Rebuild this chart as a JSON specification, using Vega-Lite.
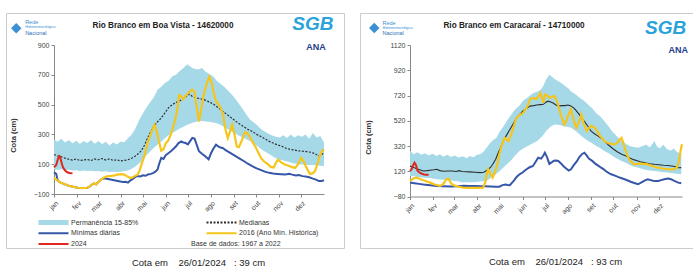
{
"$schema": "https://vega.github.io/schema/vega-lite/v6.json",
"background": "white",
"padding": {"left": 5, "top": 12, "right": 0, "bottom": 0},
"spacing": 14,
"config": {"font": "Liberation Sans", "view": {"stroke": "#cccccc"}, "axis": {"grid": false, "labelFontSize": 7, "labelColor": "#444", "domainColor": "#888", "tickColor": "#888", "tickSize": 3, "labelPadding": 2, "labelOverlap": false}},
"datasets": {
"bv": [
{"s":"band","d":0,"v":65,"v2":265},{"s":"band","d":5,"v":62,"v2":250},{"s":"band","d":10,"v":66,"v2":270},{"s":"band","d":15,"v":60,"v2":245},{"s":"band","d":20,"v":62,"v2":262},{"s":"band","d":25,"v":58,"v2":240},{"s":"band","d":30,"v":60,"v2":258},{"s":"band","d":35,"v":55,"v2":235},{"s":"band","d":40,"v":58,"v2":255},{"s":"band","d":45,"v":54,"v2":242},{"s":"band","d":50,"v":56,"v2":262},{"s":"band","d":55,"v":52,"v2":238},{"s":"band","d":60,"v":55,"v2":255},{"s":"band","d":65,"v":50,"v2":235},{"s":"band","d":70,"v":52,"v2":250},{"s":"band","d":75,"v":48,"v2":225},{"s":"band","d":80,"v":50,"v2":245},{"s":"band","d":85,"v":47,"v2":232},{"s":"band","d":90,"v":50,"v2":252},{"s":"band","d":95,"v":52,"v2":248},{"s":"band","d":100,"v":58,"v2":275},{"s":"band","d":105,"v":70,"v2":300},{"s":"band","d":110,"v":85,"v2":340},{"s":"band","d":115,"v":105,"v2":395},{"s":"band","d":120,"v":130,"v2":440},{"s":"band","d":125,"v":160,"v2":480},{"s":"band","d":130,"v":185,"v2":515},{"s":"band","d":135,"v":210,"v2":550},{"s":"band","d":140,"v":230,"v2":600},{"s":"band","d":145,"v":253,"v2":620},{"s":"band","d":150,"v":275,"v2":645},{"s":"band","d":155,"v":295,"v2":660},{"s":"band","d":160,"v":310,"v2":690},{"s":"band","d":165,"v":325,"v2":700},{"s":"band","d":170,"v":340,"v2":725},{"s":"band","d":175,"v":352,"v2":745},{"s":"band","d":180,"v":365,"v2":770},{"s":"band","d":183,"v":370,"v2":760},{"s":"band","d":187,"v":378,"v2":745},{"s":"band","d":190,"v":382,"v2":740},{"s":"band","d":195,"v":388,"v2":735},{"s":"band","d":200,"v":390,"v2":745},{"s":"band","d":205,"v":387,"v2":720},{"s":"band","d":210,"v":385,"v2":705},{"s":"band","d":215,"v":380,"v2":690},{"s":"band","d":220,"v":375,"v2":660},{"s":"band","d":225,"v":365,"v2":640},{"s":"band","d":230,"v":350,"v2":620},{"s":"band","d":235,"v":335,"v2":595},{"s":"band","d":240,"v":320,"v2":570},{"s":"band","d":245,"v":305,"v2":540},{"s":"band","d":250,"v":292,"v2":505},{"s":"band","d":255,"v":280,"v2":470},{"s":"band","d":260,"v":268,"v2":433},{"s":"band","d":265,"v":255,"v2":400},{"s":"band","d":270,"v":240,"v2":380},{"s":"band","d":275,"v":220,"v2":360},{"s":"band","d":280,"v":200,"v2":335},{"s":"band","d":285,"v":185,"v2":320},{"s":"band","d":290,"v":170,"v2":305},{"s":"band","d":295,"v":155,"v2":292},{"s":"band","d":300,"v":140,"v2":285},{"s":"band","d":305,"v":132,"v2":280},{"s":"band","d":310,"v":124,"v2":295},{"s":"band","d":315,"v":118,"v2":276},{"s":"band","d":320,"v":112,"v2":300},{"s":"band","d":325,"v":105,"v2":280},{"s":"band","d":330,"v":102,"v2":295},{"s":"band","d":335,"v":98,"v2":285},{"s":"band","d":340,"v":96,"v2":300},{"s":"band","d":345,"v":95,"v2":270},{"s":"band","d":350,"v":95,"v2":310},{"s":"band","d":355,"v":93,"v2":280},{"s":"band","d":360,"v":90,"v2":290},{"s":"band","d":365,"v":88,"v2":245},
{"s":"med","d":0,"v":165},{"s":"med","d":5,"v":155},{"s":"med","d":10,"v":150},{"s":"med","d":15,"v":140},{"s":"med","d":20,"v":133},{"s":"med","d":25,"v":128},{"s":"med","d":30,"v":135},{"s":"med","d":35,"v":125},{"s":"med","d":40,"v":128},{"s":"med","d":45,"v":132},{"s":"med","d":50,"v":125},{"s":"med","d":55,"v":135},{"s":"med","d":60,"v":130},{"s":"med","d":65,"v":138},{"s":"med","d":70,"v":128},{"s":"med","d":75,"v":135},{"s":"med","d":80,"v":125},{"s":"med","d":85,"v":130},{"s":"med","d":90,"v":122},{"s":"med","d":95,"v":125},{"s":"med","d":100,"v":130},{"s":"med","d":105,"v":140},{"s":"med","d":110,"v":155},{"s":"med","d":115,"v":175},{"s":"med","d":118,"v":190},{"s":"med","d":122,"v":225},{"s":"med","d":126,"v":270},{"s":"med","d":131,"v":320},{"s":"med","d":135,"v":355},{"s":"med","d":140,"v":385},{"s":"med","d":145,"v":410},{"s":"med","d":150,"v":445},{"s":"med","d":155,"v":480},{"s":"med","d":160,"v":500},{"s":"med","d":165,"v":515},{"s":"med","d":170,"v":525},{"s":"med","d":175,"v":540},{"s":"med","d":180,"v":560},{"s":"med","d":183,"v":570},{"s":"med","d":187,"v":555},{"s":"med","d":192,"v":545},{"s":"med","d":197,"v":540},{"s":"med","d":202,"v":535},{"s":"med","d":207,"v":525},{"s":"med","d":213,"v":510},{"s":"med","d":218,"v":495},{"s":"med","d":223,"v":475},{"s":"med","d":228,"v":455},{"s":"med","d":235,"v":430},{"s":"med","d":240,"v":410},{"s":"med","d":246,"v":387},{"s":"med","d":251,"v":370},{"s":"med","d":257,"v":350},{"s":"med","d":262,"v":335},{"s":"med","d":268,"v":320},{"s":"med","d":274,"v":300},{"s":"med","d":280,"v":285},{"s":"med","d":286,"v":268},{"s":"med","d":291,"v":253},{"s":"med","d":297,"v":240},{"s":"med","d":302,"v":230},{"s":"med","d":308,"v":220},{"s":"med","d":313,"v":209},{"s":"med","d":319,"v":200},{"s":"med","d":325,"v":195},{"s":"med","d":330,"v":190},{"s":"med","d":336,"v":187},{"s":"med","d":341,"v":185},{"s":"med","d":347,"v":180},{"s":"med","d":352,"v":172},{"s":"med","d":358,"v":155},{"s":"med","d":362,"v":165},{"s":"med","d":365,"v":175},
{"s":"min","d":0,"v":45},{"s":"min","d":3,"v":35},{"s":"min","d":5,"v":-10},{"s":"min","d":9,"v":-24},{"s":"min","d":15,"v":-35},{"s":"min","d":20,"v":-45},{"s":"min","d":26,"v":-52},{"s":"min","d":32,"v":-58},{"s":"min","d":38,"v":-60},{"s":"min","d":45,"v":-58},{"s":"min","d":48,"v":-50},{"s":"min","d":51,"v":-38},{"s":"min","d":54,"v":-28},{"s":"min","d":57,"v":-35},{"s":"min","d":60,"v":-20},{"s":"min","d":64,"v":-2},{"s":"min","d":68,"v":5},{"s":"min","d":73,"v":0},{"s":"min","d":78,"v":-5},{"s":"min","d":83,"v":-10},{"s":"min","d":88,"v":-15},{"s":"min","d":93,"v":-20},{"s":"min","d":97,"v":-18},{"s":"min","d":100,"v":-24},{"s":"min","d":103,"v":-10},{"s":"min","d":106,"v":0},{"s":"min","d":110,"v":15},{"s":"min","d":113,"v":20},{"s":"min","d":117,"v":18},{"s":"min","d":120,"v":25},{"s":"min","d":124,"v":22},{"s":"min","d":127,"v":31},{"s":"min","d":131,"v":35},{"s":"min","d":134,"v":40},{"s":"min","d":137,"v":50},{"s":"min","d":140,"v":64},{"s":"min","d":142,"v":100},{"s":"min","d":145,"v":142},{"s":"min","d":148,"v":135},{"s":"min","d":151,"v":160},{"s":"min","d":155,"v":175},{"s":"min","d":158,"v":187},{"s":"min","d":162,"v":205},{"s":"min","d":165,"v":220},{"s":"min","d":168,"v":240},{"s":"min","d":172,"v":253},{"s":"min","d":175,"v":245},{"s":"min","d":178,"v":242},{"s":"min","d":181,"v":233},{"s":"min","d":184,"v":255},{"s":"min","d":187,"v":276},{"s":"min","d":190,"v":272},{"s":"min","d":193,"v":230},{"s":"min","d":196,"v":187},{"s":"min","d":200,"v":170},{"s":"min","d":204,"v":155},{"s":"min","d":209,"v":133},{"s":"min","d":212,"v":170},{"s":"min","d":215,"v":200},{"s":"min","d":219,"v":231},{"s":"min","d":222,"v":220},{"s":"min","d":225,"v":212},{"s":"min","d":228,"v":209},{"s":"min","d":232,"v":195},{"s":"min","d":237,"v":180},{"s":"min","d":241,"v":168},{"s":"min","d":246,"v":153},{"s":"min","d":251,"v":138},{"s":"min","d":257,"v":120},{"s":"min","d":262,"v":103},{"s":"min","d":268,"v":87},{"s":"min","d":274,"v":72},{"s":"min","d":280,"v":60},{"s":"min","d":285,"v":50},{"s":"min","d":291,"v":42},{"s":"min","d":296,"v":38},{"s":"min","d":302,"v":35},{"s":"min","d":307,"v":33},{"s":"min","d":313,"v":31},{"s":"min","d":318,"v":35},{"s":"min","d":322,"v":30},{"s":"min","d":327,"v":25},{"s":"min","d":331,"v":28},{"s":"min","d":336,"v":20},{"s":"min","d":340,"v":18},{"s":"min","d":345,"v":12},{"s":"min","d":350,"v":3},{"s":"min","d":355,"v":-5},{"s":"min","d":358,"v":-13},{"s":"min","d":362,"v":-12},{"s":"min","d":365,"v":-8},
{"s":"hist","d":0,"v":10},{"s":"hist","d":5,"v":-10},{"s":"hist","d":9,"v":-24},{"s":"hist","d":15,"v":-35},{"s":"hist","d":20,"v":-45},{"s":"hist","d":26,"v":-52},{"s":"hist","d":32,"v":-58},{"s":"hist","d":38,"v":-60},{"s":"hist","d":45,"v":-58},{"s":"hist","d":48,"v":-50},{"s":"hist","d":51,"v":-38},{"s":"hist","d":54,"v":-28},{"s":"hist","d":57,"v":-35},{"s":"hist","d":60,"v":-20},{"s":"hist","d":64,"v":-2},{"s":"hist","d":68,"v":12},{"s":"hist","d":73,"v":20},{"s":"hist","d":78,"v":22},{"s":"hist","d":82,"v":25},{"s":"hist","d":86,"v":30},{"s":"hist","d":91,"v":33},{"s":"hist","d":95,"v":30},{"s":"hist","d":99,"v":18},{"s":"hist","d":102,"v":10},{"s":"hist","d":105,"v":8},{"s":"hist","d":109,"v":20},{"s":"hist","d":113,"v":30},{"s":"hist","d":116,"v":60},{"s":"hist","d":119,"v":110},{"s":"hist","d":122,"v":150},{"s":"hist","d":125,"v":210},{"s":"hist","d":127,"v":253},{"s":"hist","d":130,"v":290},{"s":"hist","d":133,"v":330},{"s":"hist","d":136,"v":364},{"s":"hist","d":139,"v":320},{"s":"hist","d":142,"v":250},{"s":"hist","d":145,"v":190},{"s":"hist","d":148,"v":200},{"s":"hist","d":151,"v":240},{"s":"hist","d":154,"v":255},{"s":"hist","d":158,"v":300},{"s":"hist","d":161,"v":350},{"s":"hist","d":164,"v":400},{"s":"hist","d":167,"v":480},{"s":"hist","d":169,"v":564},{"s":"hist","d":172,"v":555},{"s":"hist","d":175,"v":535},{"s":"hist","d":178,"v":560},{"s":"hist","d":181,"v":575},{"s":"hist","d":184,"v":590},{"s":"hist","d":187,"v":600},{"s":"hist","d":190,"v":585},{"s":"hist","d":193,"v":480},{"s":"hist","d":196,"v":387},{"s":"hist","d":199,"v":470},{"s":"hist","d":203,"v":580},{"s":"hist","d":207,"v":650},{"s":"hist","d":210,"v":687},{"s":"hist","d":213,"v":650},{"s":"hist","d":216,"v":580},{"s":"hist","d":219,"v":520},{"s":"hist","d":223,"v":500},{"s":"hist","d":226,"v":470},{"s":"hist","d":229,"v":420},{"s":"hist","d":232,"v":330},{"s":"hist","d":235,"v":276},{"s":"hist","d":238,"v":320},{"s":"hist","d":241,"v":364},{"s":"hist","d":244,"v":300},{"s":"hist","d":247,"v":220},{"s":"hist","d":250,"v":215},{"s":"hist","d":254,"v":260},{"s":"hist","d":258,"v":315},{"s":"hist","d":261,"v":310},{"s":"hist","d":264,"v":290},{"s":"hist","d":268,"v":253},{"s":"hist","d":272,"v":220},{"s":"hist","d":276,"v":180},{"s":"hist","d":280,"v":140},{"s":"hist","d":284,"v":118},{"s":"hist","d":289,"v":100},{"s":"hist","d":293,"v":82},{"s":"hist","d":297,"v":78},{"s":"hist","d":300,"v":110},{"s":"hist","d":303,"v":131},{"s":"hist","d":307,"v":112},{"s":"hist","d":312,"v":98},{"s":"hist","d":317,"v":90},{"s":"hist","d":322,"v":80},{"s":"hist","d":326,"v":75},{"s":"hist","d":330,"v":100},{"s":"hist","d":334,"v":142},{"s":"hist","d":338,"v":115},{"s":"hist","d":342,"v":70},{"s":"hist","d":346,"v":35},{"s":"hist","d":350,"v":40},{"s":"hist","d":353,"v":55},{"s":"hist","d":356,"v":100},{"s":"hist","d":359,"v":150},{"s":"hist","d":362,"v":185},{"s":"hist","d":365,"v":200},
{"s":"y2024","d":0,"v":80},{"s":"y2024","d":3,"v":95},{"s":"y2024","d":5,"v":130},{"s":"y2024","d":7,"v":155},{"s":"y2024","d":8,"v":152},{"s":"y2024","d":10,"v":115},{"s":"y2024","d":12,"v":80},{"s":"y2024","d":15,"v":58},{"s":"y2024","d":18,"v":46},{"s":"y2024","d":21,"v":41},{"s":"y2024","d":25,"v":39}
],
"cc": [
{"s":"band","d":0,"v":83,"v2":280},{"s":"band","d":5,"v":80,"v2":255},{"s":"band","d":10,"v":75,"v2":270},{"s":"band","d":15,"v":72,"v2":250},{"s":"band","d":20,"v":68,"v2":262},{"s":"band","d":25,"v":66,"v2":245},{"s":"band","d":30,"v":62,"v2":258},{"s":"band","d":36,"v":57,"v2":241},{"s":"band","d":40,"v":55,"v2":255},{"s":"band","d":45,"v":52,"v2":235},{"s":"band","d":50,"v":50,"v2":250},{"s":"band","d":55,"v":46,"v2":232},{"s":"band","d":60,"v":42,"v2":245},{"s":"band","d":65,"v":38,"v2":228},{"s":"band","d":71,"v":30,"v2":238},{"s":"band","d":76,"v":32,"v2":222},{"s":"band","d":80,"v":33,"v2":240},{"s":"band","d":85,"v":32,"v2":230},{"s":"band","d":90,"v":35,"v2":250},{"s":"band","d":94,"v":38,"v2":254},{"s":"band","d":98,"v":40,"v2":270},{"s":"band","d":102,"v":43,"v2":300},{"s":"band","d":107,"v":60,"v2":340},{"s":"band","d":112,"v":80,"v2":370},{"s":"band","d":116,"v":100,"v2":385},{"s":"band","d":120,"v":120,"v2":430},{"s":"band","d":125,"v":148,"v2":470},{"s":"band","d":130,"v":175,"v2":520},{"s":"band","d":136,"v":210,"v2":570},{"s":"band","d":141,"v":245,"v2":610},{"s":"band","d":147,"v":280,"v2":640},{"s":"band","d":152,"v":300,"v2":680},{"s":"band","d":158,"v":320,"v2":705},{"s":"band","d":163,"v":335,"v2":730},{"s":"band","d":168,"v":350,"v2":745},{"s":"band","d":172,"v":365,"v2":754},{"s":"band","d":176,"v":390,"v2":770},{"s":"band","d":179,"v":410,"v2":800},{"s":"band","d":183,"v":440,"v2":850},{"s":"band","d":187,"v":464,"v2":886},{"s":"band","d":190,"v":478,"v2":870},{"s":"band","d":194,"v":491,"v2":850},{"s":"band","d":199,"v":488,"v2":833},{"s":"band","d":203,"v":482,"v2":820},{"s":"band","d":208,"v":475,"v2":795},{"s":"band","d":212,"v":470,"v2":780},{"s":"band","d":216,"v":464,"v2":754},{"s":"band","d":222,"v":440,"v2":730},{"s":"band","d":228,"v":410,"v2":700},{"s":"band","d":233,"v":385,"v2":680},{"s":"band","d":239,"v":359,"v2":649},{"s":"band","d":245,"v":340,"v2":615},{"s":"band","d":250,"v":320,"v2":580},{"s":"band","d":256,"v":300,"v2":550},{"s":"band","d":261,"v":280,"v2":517},{"s":"band","d":267,"v":260,"v2":470},{"s":"band","d":272,"v":240,"v2":430},{"s":"band","d":278,"v":220,"v2":395},{"s":"band","d":284,"v":201,"v2":359},{"s":"band","d":290,"v":185,"v2":335},{"s":"band","d":295,"v":170,"v2":320},{"s":"band","d":300,"v":158,"v2":312},{"s":"band","d":306,"v":148,"v2":306},{"s":"band","d":311,"v":140,"v2":318},{"s":"band","d":317,"v":130,"v2":330},{"s":"band","d":322,"v":126,"v2":310},{"s":"band","d":328,"v":122,"v2":359},{"s":"band","d":331,"v":120,"v2":320},{"s":"band","d":335,"v":116,"v2":300},{"s":"band","d":340,"v":112,"v2":330},{"s":"band","d":345,"v":110,"v2":295},{"s":"band","d":350,"v":106,"v2":285},{"s":"band","d":354,"v":104,"v2":300},{"s":"band","d":358,"v":100,"v2":275},{"s":"band","d":364,"v":96,"v2":254},
{"s":"med","d":0,"v":162},{"s":"med","d":5,"v":150},{"s":"med","d":9,"v":140},{"s":"med","d":14,"v":130},{"s":"med","d":18,"v":122},{"s":"med","d":23,"v":125},{"s":"med","d":27,"v":128},{"s":"med","d":32,"v":132},{"s":"med","d":36,"v":136},{"s":"med","d":40,"v":125},{"s":"med","d":45,"v":120},{"s":"med","d":50,"v":122},{"s":"med","d":57,"v":122},{"s":"med","d":62,"v":118},{"s":"med","d":66,"v":125},{"s":"med","d":70,"v":118},{"s":"med","d":75,"v":116},{"s":"med","d":80,"v":115},{"s":"med","d":87,"v":112},{"s":"med","d":94,"v":109},{"s":"med","d":99,"v":112},{"s":"med","d":104,"v":130},{"s":"med","d":108,"v":150},{"s":"med","d":111,"v":175},{"s":"med","d":115,"v":215},{"s":"med","d":118,"v":260},{"s":"med","d":122,"v":310},{"s":"med","d":125,"v":359},{"s":"med","d":130,"v":410},{"s":"med","d":134,"v":450},{"s":"med","d":139,"v":500},{"s":"med","d":143,"v":543},{"s":"med","d":148,"v":575},{"s":"med","d":152,"v":600},{"s":"med","d":157,"v":620},{"s":"med","d":161,"v":636},{"s":"med","d":166,"v":640},{"s":"med","d":170,"v":645},{"s":"med","d":175,"v":648},{"s":"med","d":179,"v":650},{"s":"med","d":182,"v":665},{"s":"med","d":185,"v":675},{"s":"med","d":189,"v":668},{"s":"med","d":192,"v":660},{"s":"med","d":196,"v":645},{"s":"med","d":199,"v":636},{"s":"med","d":204,"v":640},{"s":"med","d":208,"v":640},{"s":"med","d":212,"v":645},{"s":"med","d":216,"v":636},{"s":"med","d":220,"v":620},{"s":"med","d":223,"v":600},{"s":"med","d":227,"v":570},{"s":"med","d":230,"v":543},{"s":"med","d":234,"v":515},{"s":"med","d":237,"v":490},{"s":"med","d":240,"v":465},{"s":"med","d":243,"v":438},{"s":"med","d":248,"v":415},{"s":"med","d":252,"v":400},{"s":"med","d":257,"v":380},{"s":"med","d":261,"v":359},{"s":"med","d":266,"v":330},{"s":"med","d":272,"v":300},{"s":"med","d":278,"v":275},{"s":"med","d":284,"v":254},{"s":"med","d":290,"v":240},{"s":"med","d":295,"v":225},{"s":"med","d":300,"v":212},{"s":"med","d":306,"v":201},{"s":"med","d":311,"v":192},{"s":"med","d":317,"v":185},{"s":"med","d":322,"v":180},{"s":"med","d":328,"v":175},{"s":"med","d":334,"v":172},{"s":"med","d":340,"v":168},{"s":"med","d":346,"v":165},{"s":"med","d":351,"v":162},{"s":"med","d":355,"v":158},{"s":"med","d":358,"v":150},{"s":"med","d":361,"v":148},{"s":"med","d":364,"v":149},
{"s":"min","d":0,"v":30},{"s":"min","d":6,"v":25},{"s":"min","d":12,"v":20},{"s":"min","d":18,"v":15},{"s":"min","d":24,"v":12},{"s":"min","d":30,"v":8},{"s":"min","d":36,"v":4},{"s":"min","d":45,"v":2},{"s":"min","d":55,"v":0},{"s":"min","d":65,"v":2},{"s":"min","d":72,"v":5},{"s":"min","d":80,"v":4},{"s":"min","d":88,"v":3},{"s":"min","d":95,"v":2},{"s":"min","d":100,"v":2},{"s":"min","d":108,"v":0},{"s":"min","d":115,"v":-2},{"s":"min","d":120,"v":-2},{"s":"min","d":124,"v":10},{"s":"min","d":128,"v":15},{"s":"min","d":131,"v":12},{"s":"min","d":134,"v":10},{"s":"min","d":137,"v":30},{"s":"min","d":140,"v":50},{"s":"min","d":143,"v":75},{"s":"min","d":147,"v":96},{"s":"min","d":151,"v":110},{"s":"min","d":155,"v":130},{"s":"min","d":160,"v":150},{"s":"min","d":165,"v":162},{"s":"min","d":168,"v":190},{"s":"min","d":172,"v":227},{"s":"min","d":176,"v":220},{"s":"min","d":179,"v":245},{"s":"min","d":181,"v":267},{"s":"min","d":184,"v":230},{"s":"min","d":187,"v":178},{"s":"min","d":190,"v":190},{"s":"min","d":193,"v":204},{"s":"min","d":196,"v":205},{"s":"min","d":199,"v":201},{"s":"min","d":203,"v":180},{"s":"min","d":206,"v":160},{"s":"min","d":210,"v":140},{"s":"min","d":213,"v":125},{"s":"min","d":216,"v":136},{"s":"min","d":220,"v":170},{"s":"min","d":224,"v":200},{"s":"min","d":227,"v":230},{"s":"min","d":231,"v":257},{"s":"min","d":234,"v":267},{"s":"min","d":237,"v":245},{"s":"min","d":240,"v":220},{"s":"min","d":245,"v":200},{"s":"min","d":249,"v":178},{"s":"min","d":253,"v":162},{"s":"min","d":256,"v":150},{"s":"min","d":260,"v":135},{"s":"min","d":263,"v":120},{"s":"min","d":267,"v":105},{"s":"min","d":270,"v":96},{"s":"min","d":275,"v":85},{"s":"min","d":279,"v":75},{"s":"min","d":284,"v":65},{"s":"min","d":288,"v":57},{"s":"min","d":293,"v":45},{"s":"min","d":297,"v":35},{"s":"min","d":302,"v":25},{"s":"min","d":306,"v":17},{"s":"min","d":310,"v":30},{"s":"min","d":313,"v":40},{"s":"min","d":316,"v":50},{"s":"min","d":319,"v":57},{"s":"min","d":323,"v":50},{"s":"min","d":326,"v":45},{"s":"min","d":330,"v":43},{"s":"min","d":333,"v":43},{"s":"min","d":337,"v":50},{"s":"min","d":340,"v":55},{"s":"min","d":344,"v":60},{"s":"min","d":347,"v":63},{"s":"min","d":351,"v":55},{"s":"min","d":354,"v":45},{"s":"min","d":357,"v":38},{"s":"min","d":360,"v":30},{"s":"min","d":364,"v":25},
{"s":"hist","d":0,"v":43},{"s":"hist","d":3,"v":55},{"s":"hist","d":5,"v":65},{"s":"hist","d":9,"v":70},{"s":"hist","d":12,"v":62},{"s":"hist","d":15,"v":55},{"s":"hist","d":20,"v":45},{"s":"hist","d":27,"v":30},{"s":"hist","d":33,"v":15},{"s":"hist","d":40,"v":4},{"s":"hist","d":44,"v":15},{"s":"hist","d":47,"v":40},{"s":"hist","d":49,"v":57},{"s":"hist","d":52,"v":60},{"s":"hist","d":55,"v":25},{"s":"hist","d":58,"v":10},{"s":"hist","d":63,"v":0},{"s":"hist","d":67,"v":-5},{"s":"hist","d":71,"v":-10},{"s":"hist","d":78,"v":-12},{"s":"hist","d":85,"v":-12},{"s":"hist","d":92,"v":-12},{"s":"hist","d":98,"v":-10},{"s":"hist","d":101,"v":30},{"s":"hist","d":103,"v":100},{"s":"hist","d":105,"v":136},{"s":"hist","d":108,"v":100},{"s":"hist","d":111,"v":70},{"s":"hist","d":113,"v":100},{"s":"hist","d":116,"v":150},{"s":"hist","d":118,"v":200},{"s":"hist","d":120,"v":254},{"s":"hist","d":122,"v":300},{"s":"hist","d":124,"v":340},{"s":"hist","d":127,"v":385},{"s":"hist","d":130,"v":370},{"s":"hist","d":132,"v":359},{"s":"hist","d":135,"v":400},{"s":"hist","d":138,"v":450},{"s":"hist","d":141,"v":510},{"s":"hist","d":143,"v":543},{"s":"hist","d":147,"v":565},{"s":"hist","d":150,"v":575},{"s":"hist","d":152,"v":583},{"s":"hist","d":155,"v":610},{"s":"hist","d":158,"v":640},{"s":"hist","d":161,"v":689},{"s":"hist","d":164,"v":700},{"s":"hist","d":166,"v":700},{"s":"hist","d":169,"v":690},{"s":"hist","d":172,"v":710},{"s":"hist","d":175,"v":740},{"s":"hist","d":177,"v":700},{"s":"hist","d":179,"v":662},{"s":"hist","d":181,"v":728},{"s":"hist","d":184,"v":720},{"s":"hist","d":188,"v":700},{"s":"hist","d":191,"v":710},{"s":"hist","d":194,"v":715},{"s":"hist","d":197,"v":680},{"s":"hist","d":201,"v":596},{"s":"hist","d":204,"v":540},{"s":"hist","d":207,"v":491},{"s":"hist","d":210,"v":520},{"s":"hist","d":212,"v":560},{"s":"hist","d":216,"v":610},{"s":"hist","d":219,"v":540},{"s":"hist","d":223,"v":464},{"s":"hist","d":226,"v":500},{"s":"hist","d":230,"v":570},{"s":"hist","d":233,"v":500},{"s":"hist","d":237,"v":438},{"s":"hist","d":240,"v":460},{"s":"hist","d":243,"v":480},{"s":"hist","d":246,"v":470},{"s":"hist","d":248,"v":464},{"s":"hist","d":252,"v":430},{"s":"hist","d":255,"v":400},{"s":"hist","d":258,"v":380},{"s":"hist","d":261,"v":359},{"s":"hist","d":265,"v":345},{"s":"hist","d":268,"v":340},{"s":"hist","d":272,"v":335},{"s":"hist","d":275,"v":333},{"s":"hist","d":278,"v":345},{"s":"hist","d":281,"v":370},{"s":"hist","d":284,"v":385},{"s":"hist","d":287,"v":330},{"s":"hist","d":291,"v":254},{"s":"hist","d":294,"v":215},{"s":"hist","d":296,"v":200},{"s":"hist","d":299,"v":185},{"s":"hist","d":301,"v":175},{"s":"hist","d":305,"v":178},{"s":"hist","d":310,"v":180},{"s":"hist","d":314,"v":178},{"s":"hist","d":319,"v":175},{"s":"hist","d":323,"v":165},{"s":"hist","d":326,"v":160},{"s":"hist","d":330,"v":152},{"s":"hist","d":333,"v":149},{"s":"hist","d":337,"v":145},{"s":"hist","d":340,"v":140},{"s":"hist","d":344,"v":138},{"s":"hist","d":346,"v":136},{"s":"hist","d":350,"v":135},{"s":"hist","d":355,"v":136},{"s":"hist","d":358,"v":150},{"s":"hist","d":361,"v":200},{"s":"hist","d":363,"v":280},{"s":"hist","d":365,"v":333},
{"s":"y2024","d":0,"v":122},{"s":"y2024","d":2,"v":135},{"s":"y2024","d":4,"v":165},{"s":"y2024","d":6,"v":188},{"s":"y2024","d":8,"v":170},{"s":"y2024","d":10,"v":125},{"s":"y2024","d":13,"v":108},{"s":"y2024","d":16,"v":100},{"s":"y2024","d":19,"v":95},{"s":"y2024","d":22,"v":92},{"s":"y2024","d":25,"v":93}
]
},
"hconcat": [
{
"width": 338, "height": 235,
"title": {"text": "Rio Branco em Boa Vista - 14620000", "offset": -17, "dx": -12, "fontSize": 8.2, "fontWeight": "bold", "color": "#222"},
"resolve": {"axis": {"x": "independent", "y": "independent"}},
"layer": [
{
"data": {"name": "bv"},
"encoding": {
"x": {"field": "d", "type": "quantitative", "scale": {"domain": [0, 365], "range": [48, 318], "nice": false, "zero": false},
 "axis": {"values": [0,31,59,90,120,151,181,212,243,273,304,334], "labelOverlap": false, "labelExpr": "['jan','fev','mar','abr','mai','jun','jul','ago','set','out','nov','dez'][round(datum.value/30.42)]", "labelAngle": -45, "offset": -54, "title": "Cota em\u00a0\u00a0\u00a0\u00a026/01/2024\u00a0\u00a0\u00a0: 39 cm", "titleX": 192, "titleY": 68, "titleBaseline": "middle", "titleFontSize": 9.5, "titleFontWeight": "normal", "titleColor": "#222"}},
"y": {"field": "v", "type": "quantitative", "scale": {"domain": [-100, 900], "range": [181, 32], "nice": false, "zero": false},
 "axis": {"values": [-100,100,300,500,700,900], "labelOverlap": false, "format": "d", "offset": -48, "title": "Cota (cm)", "titleX": -41, "titleY": 122, "titleBaseline": "middle", "titleFontSize": 7.5, "titleFontWeight": "bold", "titleColor": "#333"}},
"color": {"field": "s", "type": "nominal",
 "scale": {"domain": ["band","med","min","hist","y2024","base"], "range": ["#a6d9e8","#2e2e2e","#3656a8","#f5c51c","#e0261d","#ffffff"]},
 "legend": {"orient": "none", "legendX": 29, "legendY": 206, "title": null, "direction": "horizontal", "columns": 2, "columnPadding": 52, "rowPadding": 2.7, "clipHeight": 7, "symbolType": "M0,0H6", "symbolSize": 100, "symbolOffset": 0, "labelFontSize": 7, "labelColor": "#333", "labelOffset": 29, "padding": 0,
  "labelExpr": "{'band':'Permanência 15-85%','med':'Medianas','min':'Mínimas diárias','hist':'2016 (Ano Mín. Histórica)','y2024':'2024','base':'Base de dados: 1967 a 2022'}[datum.value]",
  "encode": {"symbols": {"update": {
   "fill": {"value": "transparent"},
   "stroke": {"signal": "datum.value === 'band' ? '#a6d9e8' : datum.value === 'med' ? '#2e2e2e' : datum.value === 'min' ? '#3656a8' : datum.value === 'hist' ? '#f5c51c' : datum.value === 'y2024' ? '#c0302a' : 'transparent'"},
   "strokeWidth": {"signal": "datum.value === 'band' ? 5 : 2"},
   "strokeDash": {"signal": "datum.value === 'med' ? [2,1.5] : [1,0]"}}},
   "labels": {"update": {"dx": {"signal": "datum.value === 'base' ? -48 : 0"}}}}}}
},
"layer": [
{"transform": [{"filter": "datum.s === 'band'"}], "mark": {"type": "area", "opacity": 1}, "encoding": {"y2": {"field": "v2"}}},
{"transform": [{"filter": "datum.s === 'min'"}], "mark": {"type": "line", "strokeWidth": 2}},
{"transform": [{"filter": "datum.s === 'med'"}], "mark": {"type": "line", "strokeWidth": 1.2, "strokeDash": [2, 1.5]}},
{"transform": [{"filter": "datum.s === 'hist'"}], "mark": {"type": "line", "strokeWidth": 2.2}},
{"transform": [{"filter": "datum.s === 'y2024'"}], "mark": {"type": "line", "strokeWidth": 2}}
]
},
{"data": {"values": [{"t": "SGB"}]}, "mark": {"type": "text", "fontSize": 19, "fontWeight": "bold", "fontStyle": "italic", "align": "center", "baseline": "middle"}, "encoding": {"text": {"field": "t"}, "x": {"datum": 350, "type": "quantitative", "axis": null}, "y": {"datum": 1040, "type": "quantitative", "axis": null}, "color": {"value": "#2aa3dc"}}},
{"data": {"values": [{"t": "ANA"}]}, "mark": {"type": "text", "fontSize": 9, "fontWeight": "bold", "align": "left", "baseline": "middle"}, "encoding": {"text": {"field": "t"}, "x": {"datum": 341, "type": "quantitative", "axis": null}, "y": {"datum": 887, "type": "quantitative", "axis": null}, "color": {"value": "#1f3d8c"}}},
{"data": {"values": [{"t": "icon"}]}, "mark": {"type": "point", "shape": "diamond", "filled": true, "size": 110, "opacity": 1}, "encoding": {"x": {"datum": -51, "type": "quantitative", "axis": null}, "y": {"datum": 1013, "type": "quantitative", "axis": null}, "color": {"value": "#3b8fd2"}}},
{"data": {"values": [{"t": "Rede"}]}, "mark": {"type": "text", "fontSize": 5.5, "align": "left", "baseline": "middle"}, "encoding": {"text": {"field": "t"}, "x": {"datum": -39, "type": "quantitative", "axis": null}, "y": {"datum": 1057, "type": "quantitative", "axis": null}, "color": {"value": "#3b8fd2"}}},
{"data": {"values": [{"t": "Hidrometeorológica"}]}, "mark": {"type": "text", "fontSize": 3.5, "align": "left", "baseline": "middle"}, "encoding": {"text": {"field": "t"}, "x": {"datum": -39, "type": "quantitative", "axis": null}, "y": {"datum": 1020, "type": "quantitative", "axis": null}, "color": {"value": "#3b8fd2"}}},
{"data": {"values": [{"t": "Nacional"}]}, "mark": {"type": "text", "fontSize": 5.5, "align": "left", "baseline": "middle"}, "encoding": {"text": {"field": "t"}, "x": {"datum": -39, "type": "quantitative", "axis": null}, "y": {"datum": 983, "type": "quantitative", "axis": null}, "color": {"value": "#2f6fb8"}}}
]
},
{
"width": 338, "height": 235,
"title": {"text": "Rio Branco em Caracaraí - 14710000", "offset": -17, "dx": -15, "fontSize": 8.2, "fontWeight": "bold", "color": "#222"},
"resolve": {"axis": {"x": "independent", "y": "independent"}},
"layer": [
{
"data": {"name": "cc"},
"encoding": {
"x": {"field": "d", "type": "quantitative", "scale": {"domain": [0, 365], "range": [50, 322], "nice": false, "zero": false},
 "axis": {"values": [0,31,59,90,120,151,181,212,243,273,304,334], "labelOverlap": false, "labelExpr": "['jan','fev','mar','abr','mai','jun','jul','ago','set','out','nov','dez'][round(datum.value/30.42)]", "labelAngle": -45, "offset": -51.5, "title": "Cota em\u00a0\u00a0\u00a0\u00a026/01/2024\u00a0\u00a0\u00a0: 93 cm", "titleX": 195, "titleY": 64.5, "titleBaseline": "middle", "titleFontSize": 9.5, "titleFontWeight": "normal", "titleColor": "#222"}},
"y": {"field": "v", "type": "quantitative", "scale": {"domain": [-80, 1120], "range": [183.5, 32], "nice": false, "zero": false},
 "axis": {"values": [-80,120,320,520,720,920,1120], "labelOverlap": false, "format": "d", "offset": -50, "title": "Cota (cm)", "titleX": -42, "titleY": 124, "titleBaseline": "middle", "titleFontSize": 7.5, "titleFontWeight": "bold", "titleColor": "#333"}},
"color": {"field": "s", "type": "nominal",
 "scale": {"domain": ["band","med","min","hist","y2024","base"], "range": ["#a6d9e8","#5b6670","#2c3f86","#f2c318","#e8382c","#ffffff"]},
 "legend": {"orient": "none", "legendX": 32, "legendY": 208, "title": null, "direction": "horizontal", "columns": 2, "columnPadding": 52, "rowPadding": 2.7, "clipHeight": 7, "symbolType": "M0,0H6", "symbolSize": 100, "symbolOffset": 0, "labelFontSize": 7, "labelColor": "#333", "labelOffset": 29, "padding": 0,
  "labelExpr": "{'band':'Permanência 15-85%','med':'Medianas','min':'Mínimas diárias','hist':'1998 (Ano Mín. Histórica)','y2024':'2024','base':'Base de dados: 1967 a 2022'}[datum.value]",
  "encode": {"symbols": {"update": {
   "fill": {"value": "transparent"},
   "stroke": {"signal": "datum.value === 'band' ? '#a6d9e8' : datum.value === 'med' ? '#5b6670' : datum.value === 'min' ? '#2c3f86' : datum.value === 'hist' ? '#f2c318' : datum.value === 'y2024' ? '#e8382c' : 'transparent'"},
   "strokeWidth": {"signal": "datum.value === 'band' ? 5 : 2"},
   "strokeDash": {"signal": "[1,0]"}}},
   "labels": {"update": {"dx": {"signal": "datum.value === 'base' ? -48 : 0"}}}}}}
},
"layer": [
{"transform": [{"filter": "datum.s === 'band'"}], "mark": {"type": "area", "opacity": 1}, "encoding": {"y2": {"field": "v2"}}},
{"transform": [{"filter": "datum.s === 'min'"}], "mark": {"type": "line", "strokeWidth": 2}},
{"transform": [{"filter": "datum.s === 'med'"}], "mark": {"type": "line", "strokeWidth": 1.1}},
{"transform": [{"filter": "datum.s === 'hist'"}], "mark": {"type": "line", "strokeWidth": 2.2}},
{"transform": [{"filter": "datum.s === 'y2024'"}], "mark": {"type": "line", "strokeWidth": 2}}
]
},
{"data": {"values": [{"t": "SGB"}]}, "mark": {"type": "text", "fontSize": 19, "fontWeight": "bold", "fontStyle": "italic", "align": "center", "baseline": "middle"}, "encoding": {"text": {"field": "t"}, "x": {"datum": 343, "type": "quantitative", "axis": null}, "y": {"datum": 1254, "type": "quantitative", "axis": null}, "color": {"value": "#2aa3dc"}}},
{"data": {"values": [{"t": "ANA"}]}, "mark": {"type": "text", "fontSize": 9, "fontWeight": "bold", "align": "left", "baseline": "middle"}, "encoding": {"text": {"field": "t"}, "x": {"datum": 347, "type": "quantitative", "axis": null}, "y": {"datum": 1080, "type": "quantitative", "axis": null}, "color": {"value": "#1f3d8c"}}},
{"data": {"values": [{"t": "icon"}]}, "mark": {"type": "point", "shape": "diamond", "filled": true, "size": 110, "opacity": 1}, "encoding": {"x": {"datum": -48, "type": "quantitative", "axis": null}, "y": {"datum": 1254, "type": "quantitative", "axis": null}, "color": {"value": "#3b8fd2"}}},
{"data": {"values": [{"t": "Rede"}]}, "mark": {"type": "text", "fontSize": 5.5, "align": "left", "baseline": "middle"}, "encoding": {"text": {"field": "t"}, "x": {"datum": -37, "type": "quantitative", "axis": null}, "y": {"datum": 1294, "type": "quantitative", "axis": null}, "color": {"value": "#3b8fd2"}}},
{"data": {"values": [{"t": "Hidrometeorológica"}]}, "mark": {"type": "text", "fontSize": 3.5, "align": "left", "baseline": "middle"}, "encoding": {"text": {"field": "t"}, "x": {"datum": -37, "type": "quantitative", "axis": null}, "y": {"datum": 1255, "type": "quantitative", "axis": null}, "color": {"value": "#3b8fd2"}}},
{"data": {"values": [{"t": "Nacional"}]}, "mark": {"type": "text", "fontSize": 5.5, "align": "left", "baseline": "middle"}, "encoding": {"text": {"field": "t"}, "x": {"datum": -37, "type": "quantitative", "axis": null}, "y": {"datum": 1215, "type": "quantitative", "axis": null}, "color": {"value": "#2f6fb8"}}}
]
}
]
}
